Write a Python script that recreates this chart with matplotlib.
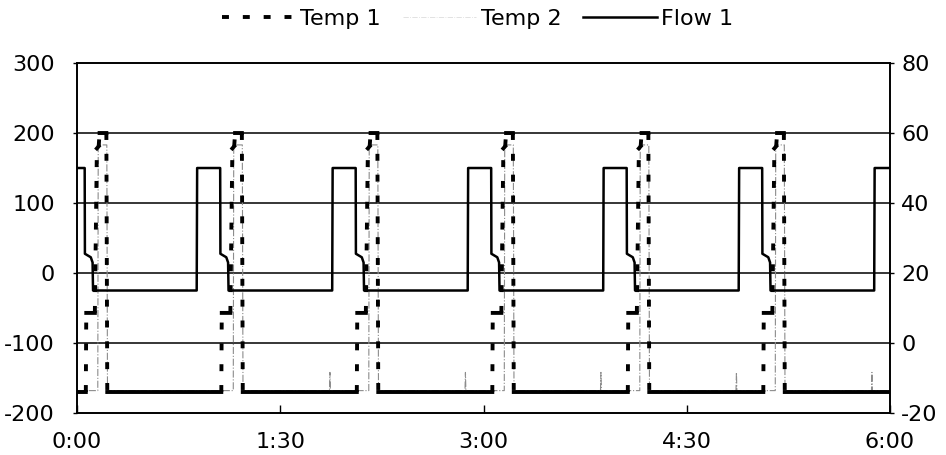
import numpy as np
import matplotlib.pyplot as plt
from matplotlib.collections import LineCollection
from matplotlib.lines import Line2D

plt.rcParams['font.family'] = ['DejaVu Sans']
plt.rcParams['font.size'] = 16
plt.rcParams['axes.unicode_minus'] = False

# time axis in minutes, one cycle every hour
cycle_starts = [0, 60, 120, 180, 240, 300]
end_time = 360
time_ticks = [0, 90, 180, 270, 360]
time_labels = ['0:00', '1:30', '3:00', '4:30', '6:00']

# Temp 1 (left axis): breakpoints inside one cycle
temp1_rel_t = [3.9, 4.1, 7.9, 8.8, 9.6, 10.0, 13.0, 13.4]
temp1_rel_v = [-170, -57, -57, 178, 181, 200, 200, -170]
temp1_start = -170

# Temp 2 (left axis)
temp2_rel_t = [9.2, 9.4, 13.2, 13.5]
temp2_rel_v = [-168, 183, 183, -168]
temp2_start = -168
temp2_spike_t = [112, 172, 232, 292, 352]
temp2_spike_v = -142

# Flow 1 (right axis)
flow1_rel_t = [3.4, 3.5, 6.1, 6.9, 7.1, 53.0, 53.2]
flow1_rel_v = [50, 25.5, 24.5, 23, 15, 15, 50]
flow1_start = 50


def build(rel_t, rel_v, start_v):
    t = [0.0]
    v = [start_v]
    for c in cycle_starts:
        t += [c + x for x in rel_t]
        v += list(rel_v)
    keep = [i for i in range(len(t)) if t[i] <= end_time]
    t = [t[i] for i in keep]
    v = [v[i] for i in keep]
    t.append(end_time)
    v.append(v[-1])
    return np.array(t), np.array(v, dtype=float)


temp1_t, temp1_v = build(temp1_rel_t, temp1_rel_v, temp1_start)
flow1_t, flow1_v = build(flow1_rel_t, flow1_rel_v, flow1_start)
temp2_t, temp2_v = build(temp2_rel_t, temp2_rel_v, temp2_start)

# add the small spikes of Temp 2
sp_t, sp_v = [], []
for s in temp2_spike_t:
    sp_t += [s - 0.2, s, s + 0.2]
    sp_v += [temp2_start, temp2_spike_v, temp2_start]
temp2_t = np.concatenate([temp2_t, sp_t])
temp2_v = np.concatenate([temp2_v, sp_v])
order = np.argsort(temp2_t, kind='stable')
temp2_t, temp2_v = temp2_t[order], temp2_v[order]

fig = plt.figure(figsize=(9.46, 4.55), dpi=100)
ax = fig.add_axes([0.0814, 0.0923, 0.8594, 0.7692])
ax2 = ax.twinx()

ax.set_xlim(0, end_time)
ax.set_ylim(-200, 300)
ax.set_yticks(range(-200, 301, 100))
ax.set_xticks(time_ticks)
ax.set_xticklabels(time_labels)
ax2.set_ylim(-20, 80)
ax2.set_yticks(range(-20, 81, 20))

for y in range(-100, 201, 100):
    ax.axhline(y, color='black', lw=1.1, zorder=1)

for a in (ax, ax2):
    for sp in a.spines.values():
        sp.set_linewidth(1.2)
ax.tick_params(axis='x', direction='in', length=6, width=1, pad=14)
ax.tick_params(axis='y', direction='out', length=3, width=1, pad=13)
ax2.tick_params(axis='y', direction='out', length=3, width=1, pad=5)

# Temp 2: thin grey dash-dot
ax.plot(temp2_t, temp2_v, color='#8c8c8c', lw=0.8, ls='-.', zorder=2)

# Temp 1: flat parts solid, jumps dashed (pattern restarts on each jump)
lw1 = 2.8
dt = np.diff(temp1_t)
dv = np.diff(temp1_v)
steep = (dt <= 1.0) & (np.abs(dv) > 10)
xs, ys = [], []
for i in range(len(temp1_t) - 1):
    if steep[i]:
        xs += [np.nan]
        ys += [np.nan]
    else:
        xs += [temp1_t[i], temp1_t[i + 1]]
        ys += [temp1_v[i], temp1_v[i + 1]]
ax.plot(xs, ys, color='black', lw=lw1, solid_capstyle='projecting',
        solid_joinstyle='miter', zorder=3)
segs = [[(temp1_t[i], temp1_v[i]), (temp1_t[i + 1], temp1_v[i + 1])]
        for i in range(len(dt)) if steep[i]]
dash = (0, (5 / lw1, 10 / lw1))
lc = LineCollection(segs, colors='black', linewidths=lw1, linestyles=[dash],
                    capstyle='butt', zorder=3)
ax.add_collection(lc)

# Flow 1 on right axis
ax2.plot(flow1_t, flow1_v, color='black', lw=1.8, zorder=4)

handles = [
    Line2D([], [], color='black', lw=lw1, ls=dash, dash_capstyle='butt'),
    Line2D([], [], color='#dddddd', lw=0.6, ls='-.'),
    Line2D([], [], color='black', lw=1.8),
]
fig.legend(handles, ['Temp 1', 'Temp 2', 'Flow 1'], loc='center',
           bbox_to_anchor=(0.505, 0.958), ncol=3, frameon=False,
           handlelength=3.3, handletextpad=0.2, columnspacing=1.0,
           fontsize=16)

fig.savefig('out.png', dpi=100)
